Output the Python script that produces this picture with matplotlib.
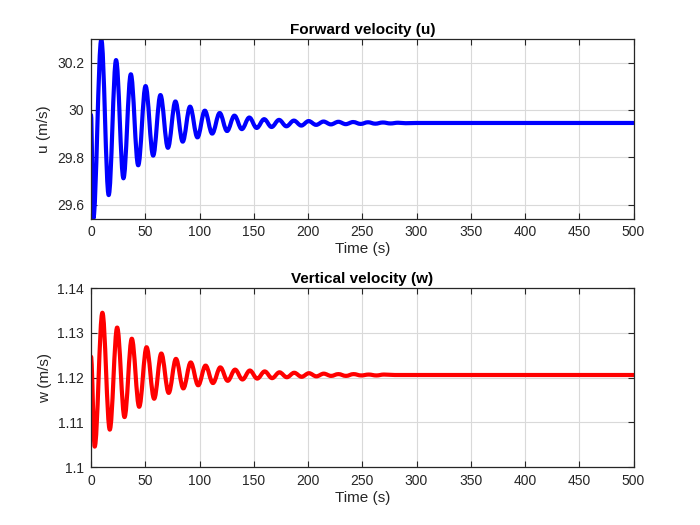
import matplotlib
matplotlib.use("Agg")
import matplotlib.pyplot as plt
from matplotlib.path import Path
from matplotlib.patches import PathPatch

# extrema (time s, value)
u_t = [0, 2.1, 9.5, 16.3, 23.1, 29.9, 36.7, 43.5, 50.3, 57.3, 64.0, 70.9, 77.8, 84.5,
       91.3, 98.1, 104.9, 111.7, 118.6, 125.4, 132.2, 139.0, 145.9, 152.7, 159.6, 166.4,
       173.3, 180.1, 187.0, 193.8, 200.6, 207.5, 214.3, 221.1, 228.0, 234.8, 241.6, 248.5,
       255.3, 262.0, 269.0, 276.0, 283.0, 290.0, 300.0, 500.0]
u_val = [29.979, 29.541, 30.298, 29.640, 30.211, 29.711, 30.151, 29.766, 30.101, 29.807,
         30.063, 29.840, 30.036, 29.866, 30.014, 29.884, 29.997, 29.900, 29.987, 29.911,
         29.976, 29.919, 29.968, 29.924, 29.961, 29.928, 29.958, 29.931, 29.955, 29.934,
         29.953, 29.937, 29.951, 29.939, 29.950, 29.940, 29.949, 29.941, 29.948, 29.942,
         29.947, 29.943, 29.946, 29.944, 29.945, 29.945]

w_t = [0, 3.4, 10.5, 17.3, 24.1, 30.9, 37.6, 44.4, 51.2, 58.2, 64.8, 71.6, 78.3, 85.1,
       91.9, 98.8, 105.6, 112.4, 119.2, 126.0, 132.8, 139.6, 146.4, 153.2, 160.1, 166.9,
       173.7, 180.5, 187.3, 194.1, 200.9, 207.7, 214.5, 221.3, 228.0, 235.0, 242.0, 249.0,
       256.0, 263.0, 270.0, 280.0, 500.0]
w_val = [1.1247, 1.1046, 1.1345, 1.1084, 1.1312, 1.1112, 1.1287, 1.1135, 1.1268, 1.1153,
         1.1254, 1.1166, 1.1242, 1.1176, 1.1234, 1.1183, 1.1227, 1.1188, 1.1223, 1.1193,
         1.1218, 1.1196, 1.1216, 1.1198, 1.1214, 1.1199, 1.1212, 1.1201, 1.1211, 1.1202,
         1.1210, 1.1203, 1.1209, 1.1204, 1.1208, 1.1204, 1.1208, 1.1205, 1.1207, 1.1205,
         1.1207, 1.1206, 1.1206]

x_ticks = [0, 50, 100, 150, 200, 250, 300, 350, 400, 450, 500]
u_ticks = [29.6, 29.8, 30.0, 30.2]
u_tick_labels = ["29.6", "29.8", "30", "30.2"]
w_ticks = [1.10, 1.11, 1.12, 1.13, 1.14]
w_tick_labels = ["1.1", "1.11", "1.12", "1.13", "1.14"]

plt.rcParams['font.family'] = ['Liberation Sans', 'DejaVu Sans']
plt.rcParams['font.size'] = 10
axc = (0.15, 0.15, 0.15)

fig = plt.figure(figsize=(7, 5.25), dpi=100)
ax1 = fig.add_axes([0.13, 0.5838, 0.775, 0.3412])
ax2 = fig.add_axes([0.13, 0.11, 0.775, 0.3412])


def smooth_trace(ax, t, v, color):
    # join the extrema with bezier segments (flat tangent at each extremum)
    verts = [(t[0], v[0])]
    codes = [Path.MOVETO]
    for i in range(1, len(t)):
        dt = t[i] - t[i - 1]
        verts += [(t[i - 1] + 0.36 * dt, v[i - 1]), (t[i] - 0.36 * dt, v[i]), (t[i], v[i])]
        codes += [Path.CURVE4] * 3
    ax.add_patch(PathPatch(Path(verts, codes), facecolor='none', edgecolor=color,
                           linewidth=3, capstyle='round', joinstyle='round'))


def style(ax, yticks, ylabels):
    ax.set_xlim(0, 500)
    ax.set_xticks(x_ticks)
    ax.set_yticks(yticks)
    ax.set_yticklabels(ylabels)
    ax.grid(True, color=(0.85, 0.85, 0.85), linewidth=0.8)
    ax.set_axisbelow(True)
    ax.tick_params(direction='in', top=True, right=True, length=4, colors=axc,
                   labelsize=10, pad=5)
    for s in ax.spines.values():
        s.set_color(axc)
        s.set_linewidth(0.9)


smooth_trace(ax1, u_t, u_val, (0, 0, 1))
style(ax1, u_ticks, u_tick_labels)
ax1.set_ylim(29.541, 30.2985)
ax1.set_title('Forward velocity (u)', fontweight='bold', fontsize=11, pad=4)
ax1.set_xlabel('Time (s)', fontsize=11, color=axc, labelpad=2)
ax1.set_ylabel('u (m/s)', fontsize=11, color=axc)

smooth_trace(ax2, w_t, w_val, (1, 0, 0))
style(ax2, w_ticks, w_tick_labels)
ax2.set_ylim(1.10, 1.14)
ax2.set_title('Vertical velocity (w)', fontweight='bold', fontsize=11, pad=4)
ax2.set_xlabel('Time (s)', fontsize=11, color=axc, labelpad=2)
ax2.set_ylabel('w (m/s)', fontsize=11, color=axc)

fig.savefig('out.png', dpi=100)
